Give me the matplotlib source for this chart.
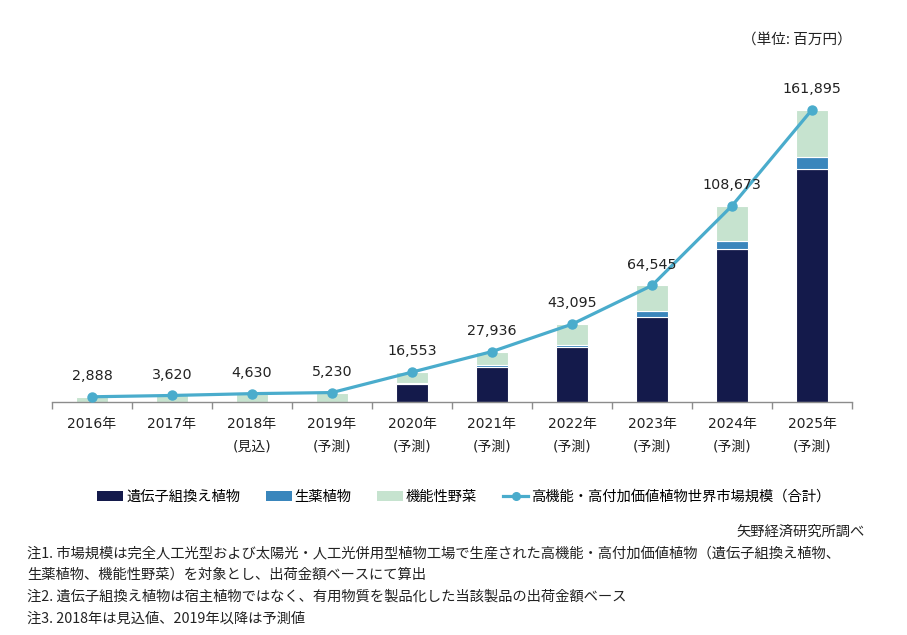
import matplotlib
matplotlib.use("Agg")
import matplotlib.pyplot as plt
import numpy as np
from matplotlib.patches import Patch
from matplotlib.lines import Line2D

plt.rcParams['font.family'] = ['DejaVu Sans', 'Noto Sans CJK JP']

categories = ['2016年', '2017年', '2018年\n(見込)', '2019年\n(予測)', '2020年\n(予測)',
              '2021年\n(予測)', '2022年\n(予測)', '2023年\n(予測)', '2024年\n(予測)', '2025年\n(予測)']
gm_plants = [0, 0, 0, 0, 10000, 19500, 30500, 47300, 85000, 129000]
herbal = [0, 0, 0, 0, 500, 800, 1300, 2900, 4400, 6600]
functional_veg = [2888, 3620, 4630, 5230, 6053, 7636, 11295, 14345, 19273, 26295]
totals = [2888, 3620, 4630, 5230, 16553, 27936, 43095, 64545, 108673, 161895]

series_names = ['遺伝子組換え植物', '生薬植物', '機能性野菜', '高機能・高付加価値植物世界市場規模（合計）']
c_dark, c_blue, c_green, c_line = '#141a4b', '#3a86bc', '#c6e3cf', '#4aaccc'

W, H = 907, 635
fig = plt.figure(figsize=(W / 100, H / 100), dpi=100)
ax = fig.add_axes([52 / W, 1 - 402 / H, 800 / W, 325 / H])

x = np.arange(len(categories))
g = np.array(gm_plants); h = np.array(herbal); f = np.array(functional_veg)
bw = 0.39
ax.bar(x, g, bw, color=c_dark, edgecolor='white', linewidth=0.8, zorder=1)
ax.bar(x, h, bw, bottom=g, color=c_blue, edgecolor='white', linewidth=0.8, zorder=1)
ax.bar(x, f, bw, bottom=g + h, color=c_green, edgecolor='white', linewidth=0.8, zorder=1)
ax.plot(x, totals, color=c_line, lw=2.3, marker='o', ms=6.5, zorder=3)

for xi, t in zip(x, totals):
    ax.annotate(f'{t:,}', (xi, t), xytext=(0, 15), textcoords='offset points',
                ha='center', va='center', fontsize=10.3, color='#222222')

ax.set_xlim(-0.5, len(categories) - 0.5)
ax.set_ylim(0, 180000)
ax.set_yticks([])
for s in ['left', 'top', 'right']:
    ax.spines[s].set_visible(False)
ax.spines['bottom'].set_color('#8c8c8c')
ax.spines['bottom'].set_linewidth(1)
ax.set_xticks(x)
ax.set_xticklabels(categories, fontsize=10, linespacing=1.85, color='#222222')
ax.set_xticks(np.arange(-0.5, len(categories), 1), minor=True)
ax.tick_params(axis='x', which='major', length=0, pad=10.5)
ax.tick_params(axis='x', which='minor', length=5, color='#8c8c8c', width=1)

handles = [Patch(facecolor=c_dark), Patch(facecolor=c_blue), Patch(facecolor=c_green),
           Line2D([0], [0], color=c_line, lw=2.3, marker='o', ms=5.5)]
fig.legend(handles, series_names, loc='center', bbox_to_anchor=(464 / W, 1 - 497 / H),
           ncol=4, frameon=False, handlelength=1.8, handletextpad=0.2, columnspacing=1.8,
           prop={'family': ['Noto Sans CJK JP', 'DejaVu Sans'], 'size': 10.3})

fig.text(852 / W, 1 - 40 / H, '（単位: 百万円）', ha='right', va='center', fontsize=10.5,
         family=['Noto Sans CJK JP', 'DejaVu Sans'], color='#222222')
fig.text(865 / W, 1 - 532 / H, '矢野経済研究所調べ', ha='right', va='center', fontsize=10.3,
         family=['Noto Sans CJK JP', 'DejaVu Sans'], color='#222222')
notes = ['注1. 市場規模は完全人工光型および太陽光・人工光併用型植物工場で生産された高機能・高付加価値植物（遺伝子組換え植物、',
         '生薬植物、機能性野菜）を対象とし、出荷金額ベースにて算出',
         '注2. 遺伝子組換え植物は宿主植物ではなく、有用物質を製品化した当該製品の出荷金額ベース',
         '注3. 2018年は見込値、2019年以降は予測値']
for i, n in enumerate(notes):
    fig.text(27 / W, 1 - (553 + 22 * i) / H, n, ha='left', va='center', fontsize=10.3,
             family=['Noto Sans CJK JP', 'DejaVu Sans'], color='#222222')

fig.savefig('out.png', dpi=100, facecolor='white')
